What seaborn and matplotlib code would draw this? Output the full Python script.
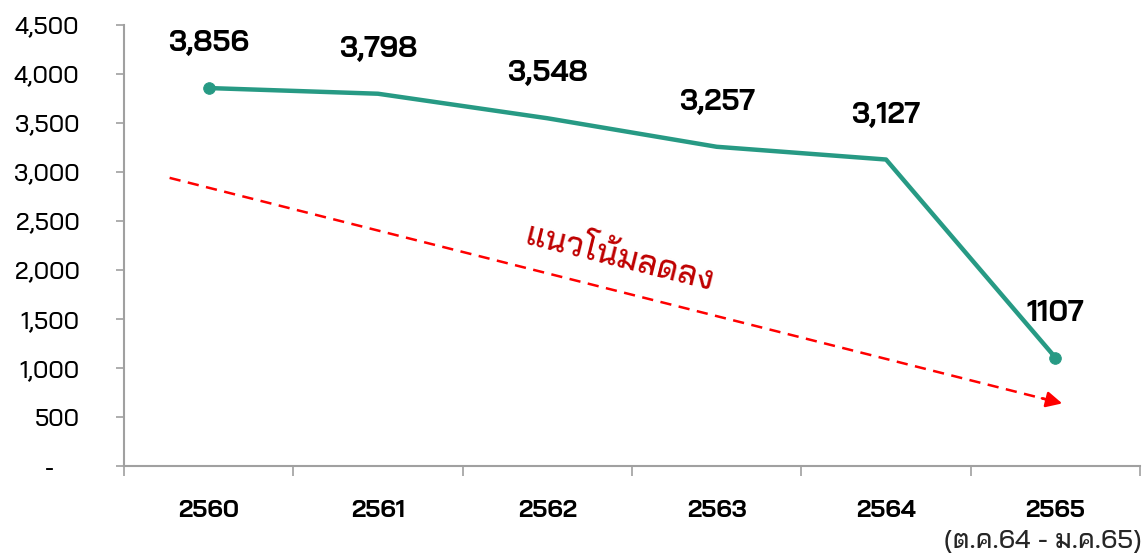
import matplotlib
matplotlib.use("Agg")
import matplotlib.pyplot as plt
import seaborn as sns
import pandas as pd
import numpy as np

years = ["2560", "2561", "2562", "2563", "2564", "2565"]
cases = [3856, 3798, 3548, 3257, 3127, 1107]
point_labels = ["3,856", "3,798", "3,548", "3,257", "3,127", "1107"]
last_note = "(ต.ค.64 - ม.ค.65)"
trend_text = "แนวโน้มลดลง"
y_ticks = [0, 500, 1000, 1500, 2000, 2500, 3000, 3500, 4000, 4500]
# dashed trend arrow, (category position, value)
trend_start = (-0.23, 2940)
trend_end = (5.04, 640)

sns.set_theme(style="white")
plt.rcParams["font.family"] = ["Bai Jamjuree", "DejaVu Sans"]

line_color = "#279A84"
axis_grey = "#A0A0A0"

df = pd.DataFrame({"pos": np.arange(len(years)), "cases": cases})

fig = plt.figure(figsize=(11.47, 5.53), dpi=100)
ax = fig.add_axes([0.108, 0.157, 0.886, 0.798])

sns.lineplot(data=df, x="pos", y="cases", color=line_color, linewidth=3.2, ax=ax)
ends = df.iloc[[0, -1]]
sns.scatterplot(data=ends, x="pos", y="cases", color=line_color, s=70,
                edgecolor=line_color, zorder=5, ax=ax)

for x, y, lab in zip(df["pos"], df["cases"], point_labels):
    ax.annotate(lab, xy=(x, y), xytext=(0, 32), textcoords="offset points",
                ha="center", va="center", fontsize=21, fontweight="bold",
                color="black")

# trend arrow
ax.plot([trend_start[0], trend_end[0] - 0.06], [trend_start[1], trend_end[1] + 26],
        color="red", linestyle=(0, (4.5, 3)), linewidth=1.8)
ax.annotate("", xy=trend_end, xytext=(trend_end[0] - 0.12, trend_end[1] + 52),
            arrowprops=dict(arrowstyle="-|>", color="red", lw=1.8, mutation_scale=24,
                            shrinkA=0, shrinkB=0))
ax.text(2.43, 2120, trend_text, color="#BF0000", fontsize=24, rotation=-14,
        rotation_mode="anchor", ha="center", va="center", fontweight="medium")

ax.set_xlim(-0.5, len(years) - 0.5)
ax.set_ylim(0, 4500)
ax.set_xticks(df["pos"])
ax.set_xticklabels(years, fontsize=17.5, fontweight="bold", color="black")
ax.set_xticks(np.arange(-0.5, len(years)), minor=True)
ax.tick_params(axis="x", which="major", length=0, pad=24, bottom=True)
ax.tick_params(axis="x", which="minor", length=7, width=1.2, color=axis_grey,
               direction="out", bottom=True)
ax.set_yticks(y_ticks)
ax.set_yticklabels(["-    "] + [f"{v:,}" for v in y_ticks[1:]], fontsize=17,
                   fontweight="medium", color="black")
ax.tick_params(axis="y", length=6, width=1.2, color=axis_grey, pad=26,
               direction="out", left=True)
ax.set_xlabel("")
ax.set_ylabel("")

ax.annotate(last_note, xy=(len(years) - 1, 0), xycoords=("data", "axes fraction"),
            xytext=(-9, -54), textcoords="offset points", ha="center", va="center",
            fontsize=19, fontweight="medium", annotation_clip=False)

for side in ["top", "right"]:
    ax.spines[side].set_visible(False)
for side in ["left", "bottom"]:
    ax.spines[side].set_color(axis_grey)
    ax.spines[side].set_linewidth(1.5)

fig.savefig("out.png", dpi=100)
